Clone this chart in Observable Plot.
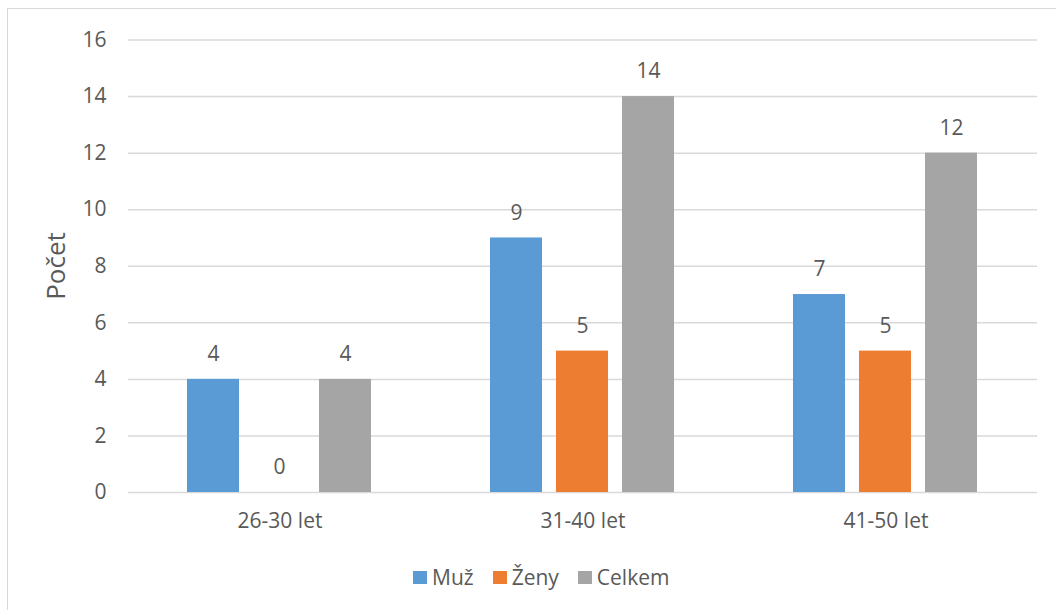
<!DOCTYPE html>
<html><head><meta charset="utf-8">
<script src="https://cdn.jsdelivr.net/npm/d3@7"></script>
<script src="https://cdn.jsdelivr.net/npm/@observablehq/plot@0.6"></script>
<style>
html,body{margin:0;padding:0;background:#fff;overflow:hidden;width:1056px;height:610px;}
#frame{position:absolute;left:7px;top:8px;width:1200px;height:800px;border:1px solid #d9d9d9;}
#chart{position:absolute;left:0;top:0;}
#legend{position:absolute;left:413px;top:563px;display:flex;gap:19px;font-family:"Open Sans",sans-serif;font-size:21px;color:#595959;}
#legend span{display:flex;align-items:center;}
#legend i{display:inline-block;width:14px;height:13px;margin-right:5px;}
</style></head>
<body>
<div id="frame"></div>
<div id="chart"></div>
<div id="legend"></div>
<script>
const groups = ["26-30 let", "31-40 let", "41-50 let"];
const series = ["Muž", "Ženy", "Celkem"];
const muz = [4, 9, 7];
const zeny = [0, 5, 5];
const celkem = [4, 14, 12];
const colors = ["#5B9BD5", "#ED7D31", "#A5A5A5"];
const yTicks = [0, 2, 4, 6, 8, 10, 12, 14, 16];

const values = [muz, zeny, celkem];
const data = [];
groups.forEach((g, gi) => series.forEach((s, si) => data.push({group: g, series: s, value: values[si][gi]})));

const font = '"Open Sans", sans-serif';
const plot = Plot.plot({
  width: 1056,
  height: 545,
  marginLeft: 128,
  marginRight: 19,
  marginTop: 39.5,
  marginBottom: 53,
  style: {fontFamily: font, fontSize: "21px", color: "#595959", background: "transparent"},
  fx: {domain: groups, padding: 0, label: null, axis: "bottom", tickSize: 0, tickPadding: 21},
  x: {domain: series, paddingInner: 0.209, paddingOuter: 0.866, axis: null},
  y: {domain: [0, 16], ticks: yTicks, label: null, tickSize: 0, tickPadding: 22},
  color: {domain: series, range: colors},
  marks: [
    Plot.ruleY(yTicks, {stroke: "#d9d9d9", strokeWidth: 1.5}),
    Plot.barY(data, {fx: "group", x: "series", y: "value", fill: "series"}),
    Plot.text(data, {fx: "group", x: "series", y: "value", text: d => String(d.value), dy: -25, fill: "#595959", fontSize: 21})
  ]
});
document.getElementById("chart").appendChild(plot);

// y-axis title
const svg = d3.select(plot);
svg.append("text")
  .attr("transform", "translate(58,266) rotate(-90)")
  .attr("text-anchor", "middle")
  .attr("dominant-baseline", "middle")
  .attr("fill", "#595959")
  .style("font-family", font)
  .style("font-size", "26px")
  .text("Počet");

const legend = document.getElementById("legend");
series.forEach((s, i) => {
  const span = document.createElement("span");
  span.innerHTML = `<i style="background:${colors[i]}"></i>${s}`;
  legend.appendChild(span);
});
</script>
</body></html>
